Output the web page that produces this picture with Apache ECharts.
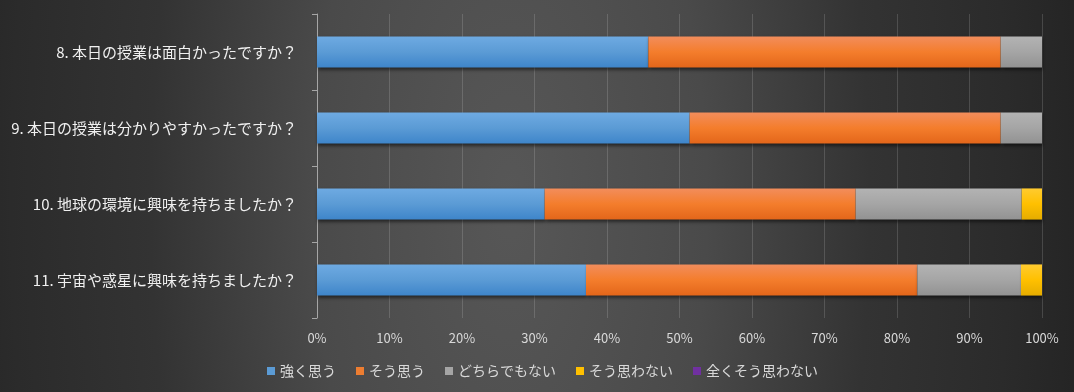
<!DOCTYPE html>
<html>
<head>
<meta charset="utf-8">
<script src="https://cdn.jsdelivr.net/npm/echarts@6/dist/echarts.min.js"></script>
<style>
  html, body { margin: 0; padding: 0; }
  body {
    width: 1074px; height: 392px; overflow: hidden;
    background: radial-gradient(ellipse 580px 1300px at 510px 200px,
      #575757 0%, #4a4a4a 34%, #333333 62%, #2b2b2b 86%, #242424 100%);
  }
  #chart { width: 1074px; height: 392px; }
</style>
</head>
<body>
<div id="chart"></div>
<script>
// Categories (top to bottom)
const categories = [
  '8. 本日の授業は面白かったですか？',
  '9. 本日の授業は分かりやすかったですか？',
  '10. 地球の環境に興味を持ちましたか？',
  '11. 宇宙や惑星に興味を持ちましたか？'
];
// Series names
const seriesNames = ['強く思う', 'そう思う', 'どちらでもない', 'そう思わない', '全くそう思わない'];
// Values (percent)
const strongYes = [45.7, 51.4, 31.4, 37.1];
const yes       = [48.6, 42.9, 42.9, 45.7];
const neutral   = [5.7, 5.7, 22.9, 14.3];
const no        = [0, 0, 2.9, 2.9];
const strongNo  = [0, 0, 0, 0];
// Axis tick values
const xTicks = [0, 10, 20, 30, 40, 50, 60, 70, 80, 90, 100];

const font = '"Noto Sans CJK JP", "Noto Sans", sans-serif';
const G = echarts.graphic.LinearGradient;
const fills = [
  new G(0, 0, 0, 1, [{offset: 0, color: '#6eaae2'}, {offset: 0.5, color: '#5b9bd5'}, {offset: 1, color: '#3e85ca'}]),
  new G(0, 0, 0, 1, [{offset: 0, color: '#f28d5c'}, {offset: 0.5, color: '#f47d2c'}, {offset: 1, color: '#e3661a'}]),
  new G(0, 0, 0, 1, [{offset: 0, color: '#b3b3b3'}, {offset: 0.5, color: '#a5a5a5'}, {offset: 1, color: '#929292'}]),
  new G(0, 0, 0, 1, [{offset: 0, color: '#ffcb30'}, {offset: 0.5, color: '#ffc000'}, {offset: 1, color: '#e5ac00'}]),
  new G(0, 0, 0, 1, [{offset: 0, color: '#8a4cba'}, {offset: 0.5, color: '#7030a0'}, {offset: 1, color: '#5c2585'}])
];
const legendColors = ['#5b9bd5', '#ed7d31', '#a5a5a5', '#ffc000', '#7030a0'];
const dataSets = [strongYes, yes, neutral, no, strongNo];

const chart = echarts.init(document.getElementById('chart'), null, {renderer: 'canvas'});
chart.setOption({
  backgroundColor: 'transparent',
  animation: false,
  textStyle: { fontFamily: font },
  grid: { left: 317, right: 32, top: 14, bottom: 74, containLabel: false },
  legend: {
    left: 262, top: 359,
    itemWidth: 8, itemHeight: 8, itemGap: 20,
    icon: 'rect',
    textStyle: { color: '#d9d9d9', fontSize: 14, fontFamily: font },
    data: seriesNames.map((n, i) => ({ name: n, itemStyle: { color: legendColors[i] } }))
  },
  xAxis: {
    type: 'value', min: xTicks[0], max: xTicks[xTicks.length - 1], interval: 10,
    axisLine: { show: false },
    axisTick: { show: false },
    axisLabel: { color: '#d9d9d9', fontSize: 13, fontFamily: font, margin: 14, formatter: '{value}%' },
    splitLine: { show: true, lineStyle: { color: 'rgba(255,255,255,0.15)', width: 1 } }
  },
  yAxis: {
    type: 'category', data: categories, inverse: true,
    axisLine: { show: true, lineStyle: { color: '#a6a6a6', width: 1 } },
    axisTick: { show: true, length: 5, lineStyle: { color: '#a6a6a6' } },
    axisLabel: { color: '#f0f0f0', fontSize: 15, fontFamily: font, margin: 20 },
    splitLine: { show: false }
  },
  series: seriesNames.map((n, i) => ({
    name: n, type: 'bar', stack: 'total', barWidth: '41%',
    data: dataSets[i],
    itemStyle: {
      color: fills[i],
      shadowColor: 'rgba(0,0,0,0.5)', shadowBlur: 3, shadowOffsetY: 2, shadowOffsetX: 1
    },
    emphasis: { disabled: true }
  }))
});
</script>
</body>
</html>
